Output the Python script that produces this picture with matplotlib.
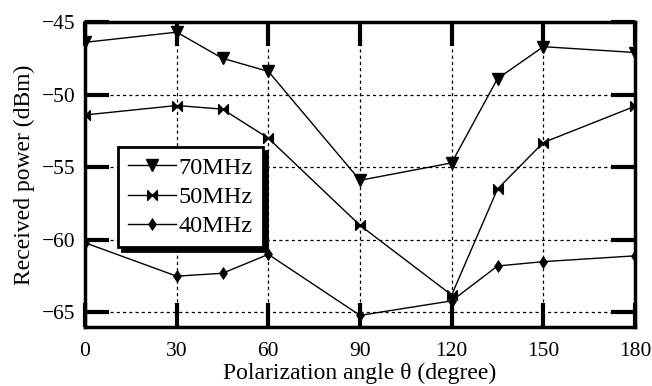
import matplotlib
matplotlib.use("Agg")
import matplotlib.pyplot as plt
from matplotlib.path import Path

angles = [0, 30, 45, 60, 90, 120, 135, 150, 180]
p70 = [-46.4, -45.7, -47.5, -48.4, -55.9, -54.7, -48.9, -46.7, -47.1]
p50 = [-51.4, -50.75, -51.0, -53.0, -59.0, -63.8, -56.5, -53.3, -50.8]
p40 = [-60.2, -62.5, -62.3, -61.0, -65.2, -64.2, -61.8, -61.5, -61.1]

xticks = [0, 30, 60, 90, 120, 150, 180]
yticks = [-45, -50, -55, -60, -65]

plt.rcParams["font.family"] = ["Liberation Serif", "DejaVu Serif"]

# bow-tie marker: two triangles meeting at the centre
bowtie = Path(
    [(-1, 1), (0, 0), (-1, -1), (-1, 1), (1, 1), (0, 0), (1, -1), (1, 1)],
    [Path.MOVETO, Path.LINETO, Path.LINETO, Path.CLOSEPOLY,
     Path.MOVETO, Path.LINETO, Path.LINETO, Path.CLOSEPOLY],
)

fig = plt.figure(figsize=(6.52, 3.86), dpi=100)
ax = fig.add_axes([85 / 652, 1 - 327 / 386, 550 / 652, 305 / 386])

ax.plot(angles, p70, "k-", lw=1, marker="v", ms=8, label="70MHz")
ax.plot(angles, p50, "k-", lw=1, marker=bowtie, ms=7, label="50MHz")
ax.plot(angles, p40, "k-", lw=1, marker="d", ms=6, markeredgewidth=0.5,
        label="40MHz")

ax.set_xlim(0, 180)
ax.set_ylim(-66, -45)
ax.set_xticks(xticks)
ax.set_yticks(yticks)
ax.grid(True, color="k", linestyle=(0, (2.5, 2.5)), linewidth=0.9)
ax.tick_params(direction="in", length=17, width=3, top=True, right=True,
               labelsize=15.5)
ax.tick_params(axis="x", pad=11)
ax.tick_params(axis="y", pad=7)
for s in ax.spines.values():
    s.set_linewidth(2.5)

ax.set_xlabel("Polarization angle θ (degree)", fontsize=17, labelpad=1)
ax.set_ylabel("Received power (dBm)", fontsize=17, labelpad=5)

leg = ax.legend(loc="upper left", bbox_to_anchor=(33 / 550, 180 / 305),
                fontsize=17.5, frameon=True, fancybox=False, framealpha=1,
                edgecolor="k", handlelength=2.0, handletextpad=0.1,
                borderpad=0.4, labelspacing=0.3, borderaxespad=0,
                shadow={"color": "k", "alpha": 1, "ox": 3, "oy": -3})
leg.get_frame().set_linewidth(2)

fig.savefig("out.png", dpi=100)
